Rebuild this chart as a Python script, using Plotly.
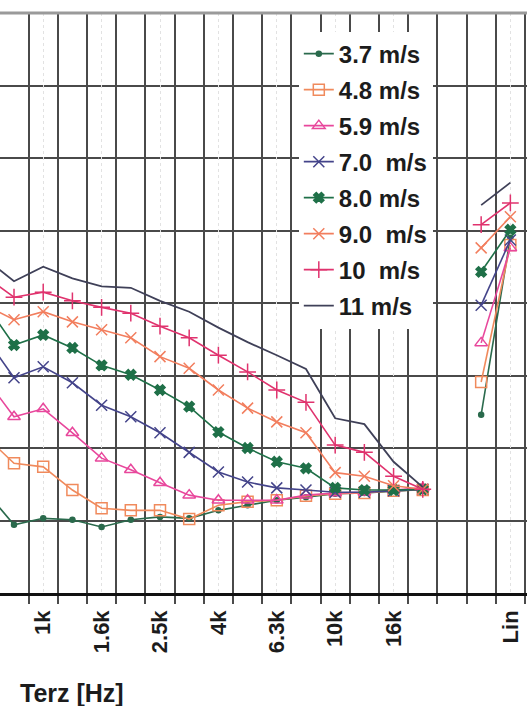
import plotly.graph_objects as go

# Third-octave bands (x categories); "" is an empty slot before the broadband values
bands = ["630", "800", "1k", "1.25k", "1.6k", "2k", "2.5k", "3.15k", "4k", "5k",
         "6.3k", "8k", "10k", "12.5k", "16k", "20k", "", "A", "Lin"]
tick_labels = ["1k", "1.6k", "2.5k", "4k", "6.3k", "10k", "16k", "Lin"]

series_names = ["3.7 m/s", "4.8 m/s", "5.9 m/s", "7.0\u00a0 m/s", "8.0 m/s",
                "9.0\u00a0 m/s", "10\u00a0 m/s", "11 m/s"]

# Sound levels [dB] per band
s37 = [34.2, 29.4, 30.3, 30.1, 29.1, 30.1, 30.5, 30.3, 31.4, 32.1, 32.8, 33.2, 33.7, 33.8, 34.1, 34.3, None, 44.6, 69.0]
s48 = [41.7, 37.9, 37.4, 34.2, 31.7, 31.4, 31.4, 30.2, 32.1, 32.6, 32.8, 33.4, 33.7, 33.8, 34.1, 34.2, None, 49.1, 68.0]
s59 = [49.7, 44.3, 45.4, 42.1, 38.6, 37.0, 35.2, 33.5, 32.8, 32.8, 32.8, 33.5, 33.8, 33.9, 34.2, 34.5, None, 54.5, 67.6]
s70 = [55.4, 49.7, 51.2, 49.0, 45.9, 44.3, 42.1, 39.4, 36.7, 35.3, 34.5, 34.2, 33.9, 33.9, 34.1, 34.3, None, 59.7, 68.7]
s80 = [60.0, 54.2, 55.6, 53.8, 51.4, 50.1, 48.0, 45.7, 42.2, 40.0, 38.1, 37.2, 34.5, 34.2, 34.2, 34.3, None, 64.3, 70.1]
s90 = [59.7, 57.7, 58.8, 57.4, 56.3, 55.2, 52.6, 51.0, 48.0, 45.5, 43.6, 42.1, 36.6, 36.1, 34.8, 34.3, None, 67.6, 71.9]
s10 = [63.7, 60.8, 61.5, 60.3, 59.4, 58.6, 56.8, 55.2, 52.8, 50.5, 48.0, 46.3, 40.4, 39.4, 36.1, 34.3, None, 70.8, 73.8]
s11 = [66.2, 63.0, 65.0, 63.4, 62.3, 62.1, 60.3, 58.8, 56.6, 54.6, 52.8, 50.9, 44.1, 43.3, 38.1, 34.6, None, 73.5, 76.6]

all_series = [s37, s48, s59, s70, s80, s90, s10, s11]

colors = ["#2a6a4c", "#f08a5c", "#e8479c", "#44448a", "#1f7048", "#f27e5e", "#e0336e", "#3f4058"]
symbols = ["circle", "square-open", "triangle-up-open", "x-thin", "x", "x-thin", "cross-thin", None]
sizes = [5, 11, 11, 11, 9, 11, 12, 0]

x_idx = list(range(len(bands)))
x_range = [0.52, 18.57]

fig = go.Figure()
for k, (name, ys, col, sym, sz) in enumerate(zip(series_names, all_series, colors, symbols, sizes)):
    common = dict(x=x_idx, y=ys, name=name, connectgaps=False, legendgroup="g%d" % k)
    if sym is None:
        # last (top-most) series sits on the overlaid label axis so that axis is drawn
        fig.add_trace(go.Scatter(mode="lines", line=dict(color=col, width=1.8),
                                 xaxis="x2", **common))
    else:
        fig.add_trace(go.Scatter(mode="lines+markers", line=dict(color=col, width=1.6),
                                 marker=dict(symbol=sym, size=sz, color=col,
                                             line=dict(color=col, width=1.5)),
                                 **common))

FONT = "Liberation Sans, Arial, sans-serif"
TXT = "#1c1c1c"
GRID = "#4a4a4a"

fig.update_layout(
    width=527, height=706, autosize=False,
    margin=dict(l=0, r=0, t=13, b=113),
    paper_bgcolor="white", plot_bgcolor="white",
    font=dict(family=FONT, color=TXT),
    showlegend=True,
    legend=dict(x=0.567, y=0.968, xanchor="left", yanchor="top",
                bgcolor="white", borderwidth=0, tracegroupgap=1.8,
                font=dict(family=FONT, size=24, color=TXT, weight="bold")),
    annotations=[dict(text="Terz [Hz]", xref="paper", yref="paper", x=0.034, y=-0.1724,
                      xanchor="left", yanchor="middle", showarrow=False,
                      font=dict(family=FONT, size=25, color=TXT, weight="bold"))],
    shapes=[dict(type="line", xref="paper", yref="paper", x0=0, x1=1, y0=1, y1=1,
                 line=dict(color="#9a9a9a", width=3))],
    xaxis=dict(
        range=x_range,
        tickmode="linear", tick0=0.5, dtick=1,
        ticks="outside", ticklen=8, tickwidth=1.5, tickcolor=GRID,
        showticklabels=False,
        showgrid=True, gridcolor=GRID, gridwidth=1.5,
        showline=True, linecolor="#111111", linewidth=2.5,
        zeroline=False,
    ),
    xaxis2=dict(
        overlaying="x", anchor="y", side="bottom",
        range=x_range,
        tickmode="array",
        tickvals=[bands.index(lbl) for lbl in tick_labels],
        ticktext=tick_labels,
        tickangle=-90,
        tickfont=dict(family=FONT, size=22, color=TXT, weight="bold"),
        ticks="", ticklabelstandoff=12,
        showgrid=True, gridcolor="#e2e2e2", gridwidth=1, griddash="dot",
        showline=False, zeroline=False,
    ),
    yaxis=dict(
        range=[20, 100], dtick=10, tick0=0,
        showticklabels=False, ticks="",
        showgrid=True, gridcolor=GRID, gridwidth=1.5,
        zeroline=False, showline=False,
    ),
)

fig.write_html("out.html", post_script="document.body.style.margin='0';",
               config={"displayModeBar": False})
